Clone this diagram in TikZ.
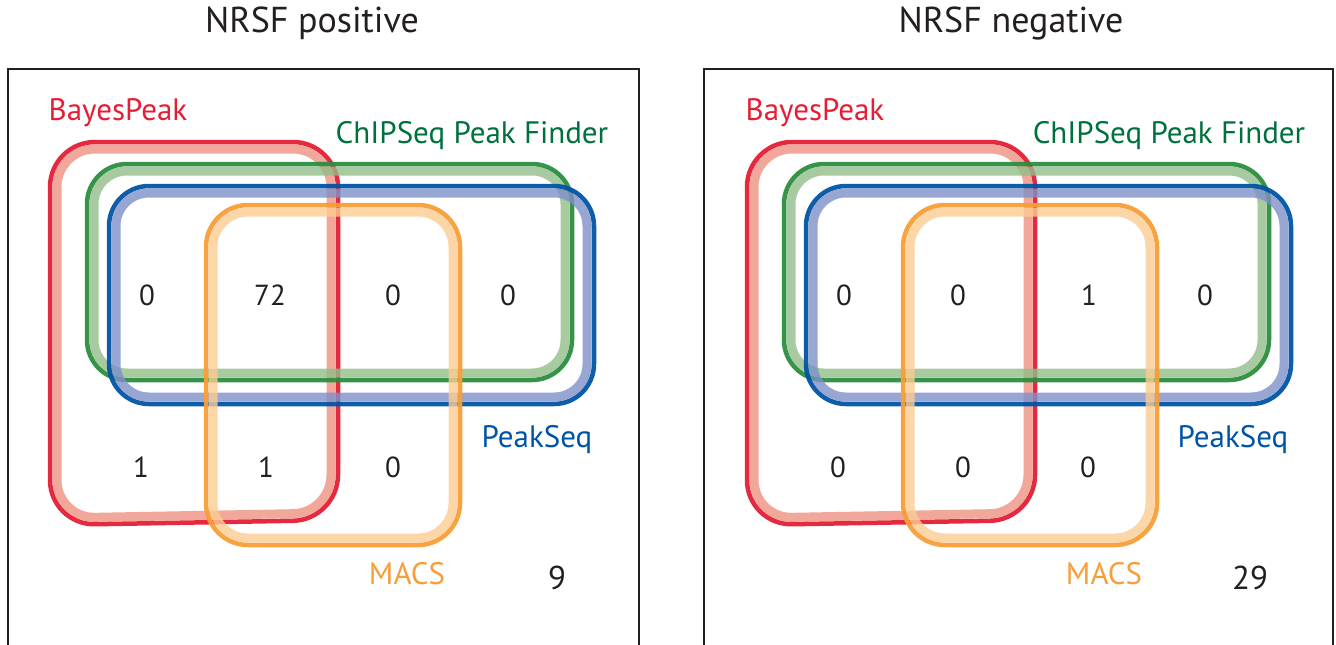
\documentclass[tikz,border=0pt]{standalone}
\usepackage{fontspec}
\setmainfont{PT Sans}
\definecolor{rdk}{RGB}{228,30,52}
\definecolor{rlt}{RGB}{237,146,129}
\definecolor{gdk}{RGB}{42,142,62}
\definecolor{glt}{RGB}{146,189,136}
\definecolor{gtx}{RGB}{0,112,60}
\definecolor{bdk}{RGB}{0,84,166}
\definecolor{blt}{RGB}{126,144,201}
\definecolor{odk}{RGB}{248,158,56}
\definecolor{olt}{RGB}{252,204,146}
\definecolor{frm}{RGB}{35,31,32}
\tikzset{
  lab/.style={font=\fontsize{31}{33}\selectfont, inner sep=0pt, anchor=base},
  num/.style={font=\fontsize{29}{31}\selectfont, inner sep=0pt, text=frm},
  big/.style={font=\fontsize{33}{35}\selectfont, inner sep=0pt, text=frm},
  ttl/.style={font=\fontsize{36}{38}\selectfont, inner sep=0pt, text=frm},
  band/.style={line width=9pt, opacity=.8},
  edge/.style={line width=4.5pt, opacity=.95},
  frame/.style={line width=2pt, draw=frm}
}
% dark colour, light colour, x1, y1, x2, y2, outer radius, inner radius
\newcommand\vennset[8]{%
  \draw[band, draw=#2, rounded corners=#8pt] ({#3+7},{#4+7}) rectangle ({#5-7},{#6-7});
  \draw[edge, draw=#1, rounded corners=#7pt] (#3,#4) rectangle (#5,#6);
}
\newcommand\redset{%
  \draw[band, draw=rlt, rounded corners=38pt] (57,149) -- (331,149) -- (331,513) -- (57,518) -- cycle;
  \draw[edge, draw=rdk, rounded corners=45pt] (50,142) -- (338,142) -- (338,520) -- (50,525) -- cycle;
}
\newcommand\allsets{%
  \redset
  \vennset{gdk}{glt}{87}{164}{572}{380}{40}{33}
  \vennset{bdk}{blt}{109}{186}{594}{404}{40}{33}
  \vennset{odk}{olt}{206}{205}{460}{545}{42}{35}
}
\begin{document}
\begin{tikzpicture}[x=1pt,y=-1pt]
\useasboundingbox (0,0) rectangle (1336,645);
% frames
\draw[frame] (8,646) -- (8,69) -- (639,69) -- (639,646);
\draw[frame] (704,646) -- (704,69) -- (1333,69) -- (1333,646);
% titles
\node[ttl] (t1) at (312,23) {NRSF positive};
\node[ttl] (t2) at (1011,23) {NRSF negative};
% left panel
\allsets
\node[lab, text=rdk] (l1) at (118,120) {BayesPeak};
\node[lab, text=gtx] (l2) at (472,143) {ChIPSeq Peak Finder};
\node[lab, text=bdk] (l3) at (537,447) {PeakSeq};
\node[lab, text=odk] (l4) at (407,584) {MACS};
\node[num] (a1) at (147,295) {0};
\node[num] (a2) at (270,295) {72};
\node[num] (a3) at (393,295) {0};
\node[num] (a4) at (508,295) {0};
\node[num] (a5) at (141,467) {1};
\node[num] (a6) at (266,467) {1};
\node[num] (a7) at (393,467) {0};
\node[big] (a8) at (557,578) {9};
% right panel
\begin{scope}[xshift=697pt]
\allsets
\end{scope}
\node[lab, text=rdk] (r1) at (815,120) {BayesPeak};
\node[lab, text=gtx] (r2) at (1169,143) {ChIPSeq Peak Finder};
\node[lab, text=bdk] (r3) at (1233,447) {PeakSeq};
\node[lab, text=odk] (r4) at (1104,584) {MACS};
\node[num] (b1) at (844,295) {0};
\node[num] (b2) at (958,295) {0};
\node[num] (b3) at (1089,295) {1};
\node[num] (b4) at (1205,295) {0};
\node[num] (b5) at (838,467) {0};
\node[num] (b6) at (963,467) {0};
\node[num] (b7) at (1088,467) {0};
\node[big] (b8) at (1250,578) {29};
\end{tikzpicture}
\end{document}
